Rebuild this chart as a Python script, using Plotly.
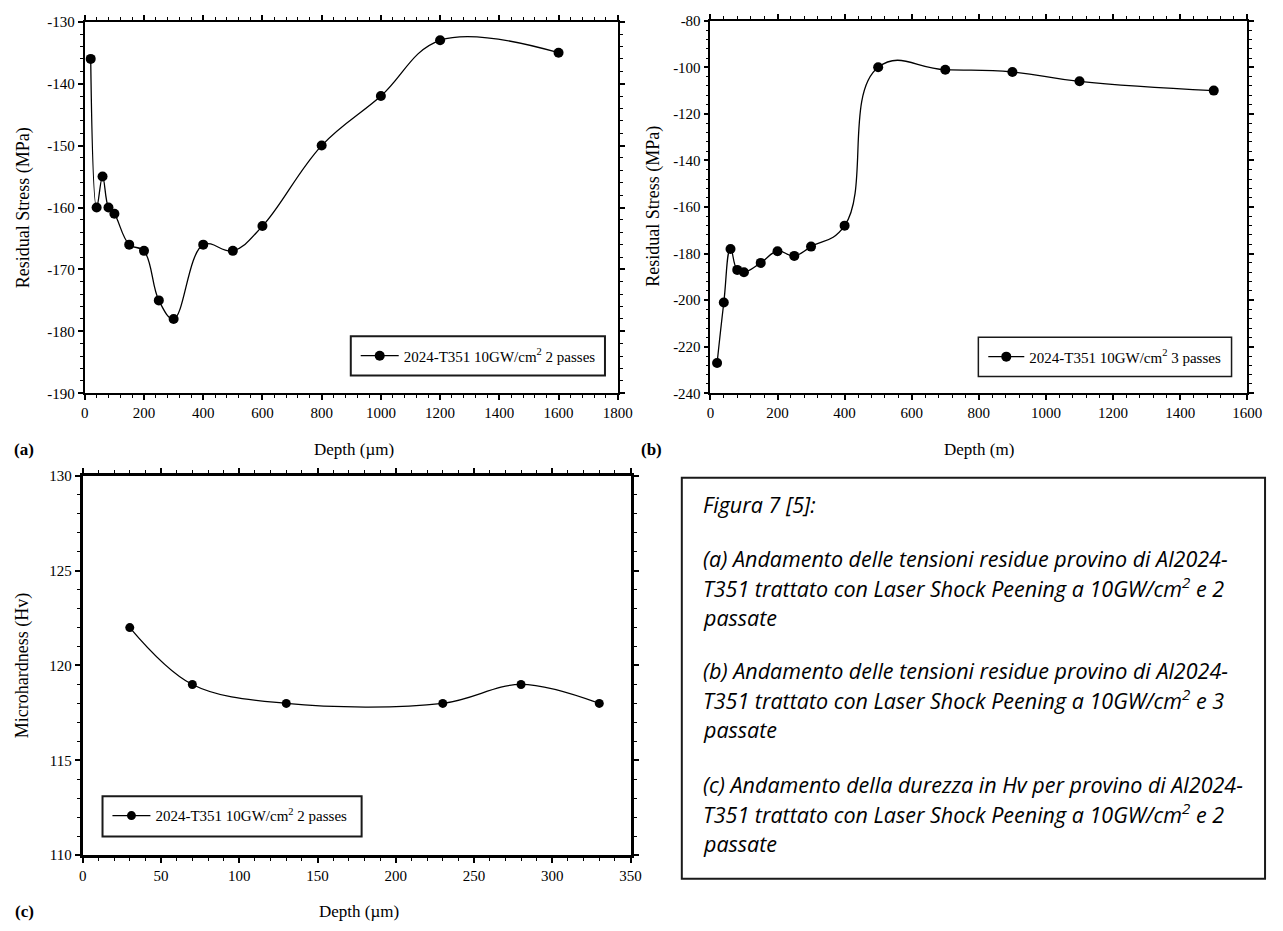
import plotly.graph_objects as go

# ---- data -------------------------------------------------------------
# (a) residual stress, 2 passes
depth_a = [20, 40, 60, 80, 100, 150, 200, 250, 300, 400, 500, 600, 800, 1000, 1200, 1600]
stress_a = [-136, -160, -155, -160, -161, -166, -167, -175, -178, -166, -167, -163, -150, -142, -133, -135]

# (b) residual stress, 3 passes
depth_b = [20, 40, 60, 80, 100, 150, 200, 250, 300, 400, 500, 700, 900, 1100, 1500]
stress_b = [-227, -201, -178, -187, -188, -184, -179, -181, -177, -168, -100, -101, -102, -106, -110]

# (c) microhardness, 2 passes
depth_c = [30, 70, 130, 230, 280, 330]
hardness_c = [122, 119, 118, 118, 119, 118]

# tick values (labels printed with a plain hyphen-minus)
xticks_a = [0, 200, 400, 600, 800, 1000, 1200, 1400, 1600, 1800]
yticks_a = [-190, -180, -170, -160, -150, -140, -130]
xticks_b = [0, 200, 400, 600, 800, 1000, 1200, 1400, 1600]
yticks_b = [-240, -220, -200, -180, -160, -140, -120, -100, -80]
xticks_c = [0, 50, 100, 150, 200, 250, 300, 350]
yticks_c = [110, 115, 120, 125, 130]

label_2p = "2024-T351 10GW/cm<sup>2</sup> 2 passes"
label_3p = "2024-T351 10GW/cm<sup>2</sup> 3 passes"

caption_lines = [
    "Figura 7 [5]:",
    "(a) Andamento delle tensioni residue provino di Al2024-",
    "T351 trattato con Laser Shock Peening a 10GW/cm<sup>2</sup> e 2",
    "passate",
    "(b) Andamento delle tensioni residue provino di Al2024-",
    "T351 trattato con Laser Shock Peening a 10GW/cm<sup>2</sup> e 3",
    "passate",
    "(c) Andamento della durezza in Hv per provino di Al2024-",
    "T351 trattato con Laser Shock Peening a 10GW/cm<sup>2</sup> e 2",
    "passate",
]
caption_y = [505, 560, 590, 620, 674, 704, 734, 790, 820, 850]

# ---- page geometry (pixels) --------------------------------------------
W, H = 1283, 931
SERIF = "Liberation Serif, Times New Roman, serif"


def fx(px):
    return px / W


def fy(py):
    return 1 - py / H


fig = go.Figure()

fig.add_trace(go.Scatter(
    x=depth_a, y=stress_a, mode="lines+markers", name=label_2p,
    line=dict(color="black", width=1.3, shape="spline", smoothing=1.1),
    marker=dict(color="black", size=10),
    xaxis="x", yaxis="y", legend="legend", showlegend=True,
))
fig.add_trace(go.Scatter(
    x=depth_b, y=stress_b, mode="lines+markers", name=label_3p,
    line=dict(color="black", width=1.3, shape="spline", smoothing=1.3),
    marker=dict(color="black", size=10),
    xaxis="x2", yaxis="y2", legend="legend2", showlegend=True,
))
fig.add_trace(go.Scatter(
    x=depth_c, y=hardness_c, mode="lines+markers", name=label_2p,
    line=dict(color="black", width=1.3, shape="spline"),
    marker=dict(color="black", size=9),
    xaxis="x3", yaxis="y3", legend="legend3", showlegend=True,
))


def axis(domain, rng, ticks, minor_dtick, anchor, lw):
    return dict(
        domain=domain, range=rng, tickmode="array", tickvals=ticks,
        ticktext=[str(t) for t in ticks], anchor=anchor,
        showline=True, linecolor="black", linewidth=lw, mirror="allticks",
        ticks="outside", ticklen=5, tickwidth=1.5, tickcolor="black",
        minor=dict(dtick=minor_dtick, tick0=rng[0], ticks="outside", ticklen=3,
                   tickwidth=1, tickcolor="black"),
        showgrid=False, zeroline=False,
        tickfont=dict(family=SERIF, size=15, color="black"),
        fixedrange=True,
    )


layout = dict(
    width=W, height=H, margin=dict(l=0, r=0, t=0, b=0),
    paper_bgcolor="white", plot_bgcolor="white", showlegend=True,
    xaxis=axis([fx(82), fx(623)], [0, 1800], xticks_a, 40, "y", 2),
    yaxis=axis([fy(392), fy(14)], [-190, -130], yticks_a, 2, "x", 2),
    xaxis2=axis([fx(717), fx(1262)], [0, 1600], xticks_b, 40, "y2", 1.5),
    yaxis2=axis([fy(392), fy(13)], [-240, -80], yticks_b, 4, "x2", 1.5),
    xaxis3=axis([fx(80), fx(636)], [0, 350], xticks_c, 10, "y3", 3),
    yaxis3=axis([fy(862), fy(476)], [110, 130], yticks_c, 1, "x3", 3),
)


def legend_box(left, mid, iw):
    return dict(
        x=fx(left), xanchor="left", y=fy(mid), yanchor="middle",
        bgcolor="rgba(0,0,0,0)", borderwidth=0, itemwidth=iw,
        font=dict(family=SERIF, size=15, color="black"), visible=True,
    )


layout["legend"] = legend_box(357, 354, 38)
layout["legend2"] = legend_box(994, 355, 36)
layout["legend3"] = legend_box(105, 822, 38)
fig.update_layout(**layout)

# legend frames and caption frame
shapes = [
    dict(x0=352, x1=610, y0=334, y1=374, w=2),
    dict(x0=989, x1=1246, y0=335, y1=375, w=1.5),
    dict(x0=100, x1=363, y0=802, y1=843, w=2),
    dict(x0=688, x1=1280, y0=478, y1=886, w=2),
]
for s in shapes:
    fig.add_shape(type="rect", xref="paper", yref="paper",
                  x0=fx(s["x0"]), x1=fx(s["x1"]), y0=fy(s["y1"]), y1=fy(s["y0"]),
                  line=dict(color="#1a1a1a", width=s["w"]), fillcolor="rgba(0,0,0,0)")


def note(text, x, y, size=15, angle=0, bold=False, family=SERIF, xanchor="center"):
    fig.add_annotation(
        text=f"<b>{text}</b>" if bold else text, xref="paper", yref="paper",
        x=fx(x), y=fy(y), xanchor=xanchor, yanchor="middle", showarrow=False,
        textangle=angle, font=dict(family=family, size=size, color="black"),
    )


# axis titles
note("Depth (\u00b5m)", 355, 449, size=17)
note("Depth (m)", 990, 449, size=17)
note("Depth (\u00b5m)", 360, 919, size=17)
note("Residual Stress (MPa)", 20, 203, size=18, angle=-90)
note("Residual Stress (MPa)", 659, 202, size=18, angle=-90)
note("Microhardness (Hv)", 19, 669, size=18, angle=-90)

# panel letters
note("(a)", 20, 449, size=17, bold=True)
note("(b)", 657, 449, size=17, bold=True)
note("(c)", 21, 919, size=17, bold=True)

# caption
for line, yy in zip(caption_lines, caption_y):
    note(f"<i>{line}</i>", 707, yy, size=21.5, family="Open Sans, Lato, sans-serif",
         xanchor="left")

fig.write_html("out.html")
